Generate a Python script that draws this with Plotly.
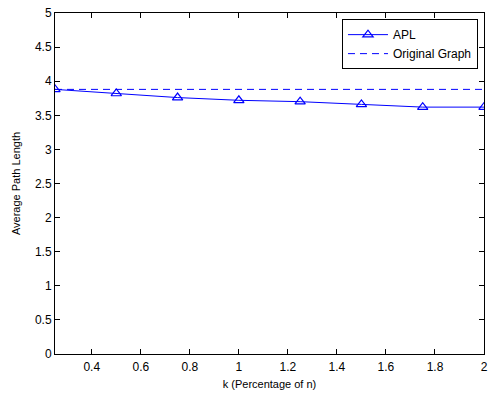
import plotly.graph_objects as go

k_values = [0.25, 0.5, 0.75, 1.0, 1.25, 1.5, 1.75, 2.0]
apl_values = [3.88, 3.82, 3.76, 3.72, 3.70, 3.66, 3.62, 3.62]
original_apl = 3.88
x_ticks = [0.4, 0.6, 0.8, 1.0, 1.2, 1.4, 1.6, 1.8, 2.0]
x_tick_labels = ["0.4", "0.6", "0.8", "1", "1.2", "1.4", "1.6", "1.8", "2"]
y_ticks = [0, 0.5, 1, 1.5, 2, 2.5, 3, 3.5, 4, 4.5, 5]
y_tick_labels = ["0", "0.5", "1", "1.5", "2", "2.5", "3", "3.5", "4", "4.5", "5"]

FONT = "Liberation Sans, Arial, sans-serif"

fig = go.Figure()
fig.add_trace(go.Scatter(
    x=k_values, y=apl_values, mode="lines+markers", name="APL",
    line=dict(color="#0000ff", width=1),
    marker=dict(symbol="triangle-up-open", size=9, color="#0000ff", line=dict(width=1.2)),
))
fig.add_trace(go.Scatter(
    x=[k_values[0], k_values[-1]], y=[original_apl, original_apl], mode="lines",
    name="Original Graph",
    line=dict(color="#0000ff", width=1, dash="7px,5px"),
))

axis_common = dict(
    showline=True, linecolor="black", linewidth=1, mirror="ticks",
    ticks="inside", ticklen=5, tickcolor="black", showgrid=False, zeroline=False,
    tickfont=dict(family=FONT, size=12, color="black"),
    ticklabeloverflow="allow",
)
fig.update_xaxes(range=[0.25, 2], tickvals=x_ticks, ticktext=x_tick_labels,
                 ticklabelstandoff=2,
                 title=dict(text="k (Percentage of n)", standoff=6,
                            font=dict(family=FONT, size=11, color="black")),
                 **axis_common)
fig.update_yaxes(range=[0, 5], tickvals=y_ticks, ticktext=y_tick_labels,
                 title=dict(text="Average Path Length", standoff=12,
                            font=dict(family=FONT, size=11, color="black")),
                 **axis_common)

fig.update_layout(
    width=488, height=394,
    margin=dict(l=55, r=0, t=13, b=40),
    paper_bgcolor="white", plot_bgcolor="white",
    showlegend=True,
    legend=dict(x=0.986, y=0.982, xanchor="right", yanchor="top",
                bgcolor="white", bordercolor="black", borderwidth=1,
                font=dict(family=FONT, size=12, color="black"),
                tracegroupgap=0, itemwidth=40),
)

fig.write_html("out.html")
